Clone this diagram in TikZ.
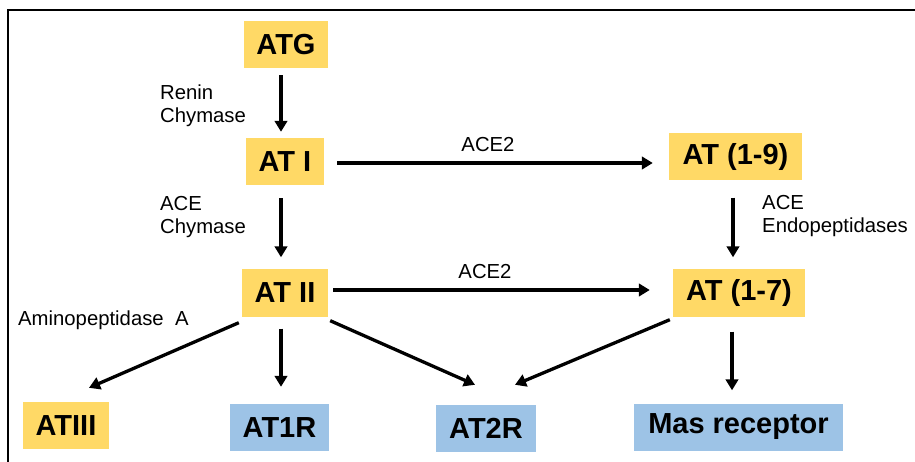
\documentclass[tikz,border=0pt]{standalone}
\usepackage{fontspec}
\setmainfont{Liberation Sans}
\usetikzlibrary{arrows.meta}
\definecolor{boxgold}{RGB}{255,217,102}
\definecolor{boxblue}{RGB}{157,195,230}
\begin{document}
\begin{tikzpicture}[x=1pt,y=-1pt,
  peptide/.style={fill=boxgold, inner sep=0pt, minimum height=47pt,
    font=\fontsize{29}{29}\selectfont\bfseries},
  receptor/.style={fill=boxblue, inner sep=0pt, minimum height=47pt,
    font=\fontsize{29}{29}\selectfont\bfseries},
  enzyme/.style={inner sep=0pt, anchor=base west,
    font=\fontsize{20.3}{23}\selectfont},
  enzymemid/.style={enzyme, anchor=base},
  flow/.style={line width=3.3pt, -{Triangle[length=11pt,width=12.5pt]}}
]
\useasboundingbox (0,0) rectangle (915,462);

% frame
\draw[line width=2.5pt] (8,462) -- (8,10) -- (915,10);

% peptides
\node[peptide, minimum width=84pt]  (ATG)  at (286,44.5)  {ATG};
\node[peptide, minimum width=78pt]  (ATI)  at (285,161.5) {AT I};
\node[peptide, minimum width=133pt] (AT19) at (735.5,157) {AT (1-9)};
\node[peptide, minimum width=86pt]  (ATII) at (285,293)   {AT II};
\node[peptide, minimum width=132pt] (AT17) at (739,293)   {AT (1-7)};
\node[peptide, minimum width=86pt]  (ATIII) at (66,425.5) {ATIII};

% receptors
\node[receptor, minimum width=99pt]  (AT1R) at (279.5,427.5) {AT1R};
\node[receptor, minimum width=100pt] (AT2R) at (486,428.5)   {AT2R};
\node[receptor, minimum width=209pt] (MAS)  at (738.5,427)   {Mas receptor};

% enzymes
\node[enzyme] (renin)  at (160,99.5)  {Renin};
\node[enzyme] (chyA)   at (160,122.5) {Chymase};
\node[enzyme] (aceA)   at (160,210.5) {ACE};
\node[enzyme] (chyB)   at (160,233.5) {Chymase};
\node[enzyme] (aceB)   at (762,210)   {ACE};
\node[enzyme] (endo)   at (762,233)   {Endopeptidases};
\node[enzymemid] (aceTwoA) at (488,152) {ACE2};
\node[enzymemid] (aceTwoB) at (485,279) {ACE2};
\node[enzyme] (amino)  at (18,325)    {Aminopeptidase\ \ A};

% reactions
\draw[flow] ([shift={(-5,7)}]ATG.south)   -- ([shift={(-4,-6)}]ATI.north);
\draw[flow] ([shift={(-4,13)}]ATI.south)  -- ([shift={(-4,-12)}]ATII.north);
\draw[flow] ([shift={(-2.5,17)}]AT19.south) -- ([shift={(-6,-12)}]AT17.north);
\draw[flow] ([shift={(13,1.5)}]ATI.east)  -- ([shift={(-16,6)}]AT19.west);
\draw[flow] ([shift={(5,-3)}]ATII.east)   -- ([shift={(-23,-3)}]AT17.west);
\draw[flow] ([shift={(-3,6)}]ATII.south west) -- ([shift={(23,-14)}]ATIII.north);
\draw[flow] ([shift={(-4,12)}]ATII.south) -- ([shift={(1.5,-17)}]AT1R.north);
\draw[flow] ([shift={(2,4)}]ATII.south east) -- ([shift={(-11,-20)}]AT2R.north);
\draw[flow] ([shift={(-3,3)}]AT17.south west) -- ([shift={(29,-20)}]AT2R.north);
\draw[flow] ([shift={(-7,15)}]AT17.south) -- ([shift={(-6.5,-13)}]MAS.north);
\end{tikzpicture}
\end{document}
